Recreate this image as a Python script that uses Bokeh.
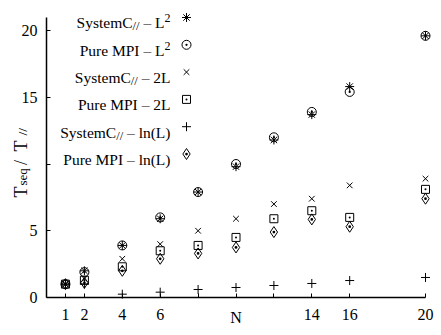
import numpy as np
from bokeh.plotting import figure
from bokeh.models import Range1d, FixedTicker, Label
from bokeh.embed import file_html
from bokeh.resources import INLINE

# ---------------- data ----------------
N = [1, 2, 4, 6, 8, 10, 12, 14, 16, 20]
sysc_l2 = [1.0, 2.0, 3.9, 5.9, 7.9, 9.8, 11.8, 13.7, 15.8, 19.6]
mpi_l2 = [1.0, 1.9, 3.9, 6.0, 7.9, 10.0, 12.0, 13.9, 15.4, 19.6]
sysc_2l = [1.0, 1.4, 2.9, 4.0, 5.0, 5.9, 7.0, 7.4, 8.4, 8.9]
mpi_2l = [1.0, 1.3, 2.3, 3.5, 3.9, 4.5, 5.9, 6.5, 6.0, 8.1]
sysc_ln = [1.0, 1.0, 0.25, 0.4, 0.6, 0.75, 0.9, 1.05, 1.27, 1.5]
mpi_ln = [1.0, 1.1, 2.0, 2.9, 3.3, 3.75, 4.9, 5.85, 5.3, 7.4]

x_ticks = [1, 2, 4, 6, 8, 10, 12, 14, 16, 20]
x_hidden_labels = [8, 10, 12]
y_ticks = [0, 5, 10, 15, 20]
y_hidden_labels = [10]

legend_labels = [
    [("SystemC", "main"), ("//", "sub"), (" \u2013 L", "main"), ("2", "sup")],
    [("Pure MPI \u2013 L", "main"), ("2", "sup")],
    [("SystemC", "main"), ("//", "sub"), (" \u2013 2L", "main")],
    [("Pure MPI \u2013 2L", "main")],
    [("SystemC", "main"), ("//", "sub"), (" \u2013 ln(L)", "main")],
    [("Pure MPI \u2013 ln(L)", "main")],
]
series = [sysc_l2, mpi_l2, sysc_2l, mpi_2l, sysc_ln, mpi_ln]
markers = ["asterisk", "circle_dot", "x", "square_dot", "cross", "diamond_dot"]
msizes = [9, 9, 8, 8, 9, 11]

# ---------------- layout ----------------
FONT = "Liberation Serif"
CW, CH = 440, 332          # canvas = frame
ORIG_X, ORIG_Y = 46, 297   # pixel position of data (0, 0)
PXX, PXY = 18.95, 13.35    # pixels per data unit
X0, X1 = -ORIG_X / PXX, (CW - ORIG_X) / PXX
Y0, Y1 = -(CH - ORIG_Y) / PXY, ORIG_Y / PXY


def dx(px):
    return X0 + px / PXX


def dy(py):
    return Y1 - py / PXY


p = figure(frame_width=CW, frame_height=CH, x_range=Range1d(X0, X1),
           y_range=Range1d(Y0, Y1), output_backend="svg", toolbar_location=None,
           min_border=0)
p.outline_line_color = None
p.grid.visible = False
p.background_fill_color = "white"
p.border_fill_color = "white"

for ax, ticks, hidden, bnd in ((p.xaxis[0], x_ticks, x_hidden_labels, (0, 20)),
                               (p.yaxis[0], y_ticks, y_hidden_labels, (0, 21))):
    ax.fixed_location = 0
    ax.ticker = FixedTicker(ticks=ticks)
    ax.major_label_overrides = {t: "" for t in hidden}
    ax.bounds = bnd
    ax.axis_line_color = "black"
    ax.axis_line_width = 1.5
    ax.major_tick_in = 4
    ax.major_tick_out = 0
    ax.major_tick_line_color = "black"
    ax.minor_tick_line_color = None
    ax.major_label_text_font = FONT
    ax.major_label_text_font_size = "16px"
    ax.major_label_text_color = "black"
p.xaxis.major_label_standoff = 11
p.yaxis.major_label_standoff = 9

# data markers
for ys, m, s in zip(series, markers, msizes):
    p.scatter(N, ys, marker=m, size=s, line_color="black", fill_color=None,
              line_width=1)

# ---------------- legend (gnuplot style: text right-aligned, symbol right) ----
W = {' ': 250, '(': 333, ')': 333, '/': 278, '2': 500, 'C': 667, 'I': 333,
     'L': 611, 'M': 889, 'P': 556, 'S': 556, 'e': 444, 'l': 278, 'm': 778,
     'n': 500, 'r': 333, 's': 389, 't': 278, 'u': 500, 'y': 500, '\u2013': 500,
     'q': 500, 'T': 611, 'N': 722}
STY = {"main": (15.5, 0.0), "sub": (12.5, 3.5), "sup": (12, -4.5)}


def tw(s, size):
    return sum(W.get(c, 500) for c in s) * size / 1000.0


TEXT_RIGHT = 170
SYM_X = 186
ROW0, ROWSTEP = 17.0, 27.3
for i, (pieces, m, s) in enumerate(zip(legend_labels, markers, msizes)):
    cy = ROW0 + i * ROWSTEP
    base = cy + 5.3
    total = sum(tw(t, STY[k][0]) for t, k in pieces)
    x = TEXT_RIGHT - total
    for t, k in pieces:
        size, off = STY[k]
        stripped = t.lstrip(" ")
        x += tw(t[:len(t) - len(stripped)], size)
        p.add_layout(Label(x=dx(x), y=dy(base + off), text=stripped,
                           text_font=FONT, text_font_size=f"{size}px",
                           text_color="black", text_align="left",
                           text_baseline="alphabetic"))
        x += tw(stripped, size)
    p.scatter([dx(SYM_X)], [dy(cy)], marker=m, size=s, line_color="black",
              fill_color=None, line_width=1)

# ---------------- axis titles ----------------
p.add_layout(Label(x=10, y=dy(317), text="N",
                   text_font=FONT, text_font_size="16px", text_color="black",
                   text_align="center", text_baseline="middle"))

ylab = [("T", 18, 197, 20.5, "left"), ("seq", 13, 185, 22, "left"),
        ("/", 18, 162, 20.5, "center"), ("T", 18, 151, 20.5, "left"),
        ("//", 13.5, 135, 21.5, "left")]
for t, size, ystart, xb, al in ylab:
    p.add_layout(Label(x=dx(xb), y=dy(ystart), text=t, angle=np.pi / 2,
                       text_font=FONT, text_font_size=f"{size}px",
                       text_color="black", text_align=al,
                       text_baseline="alphabetic"))

open("out.html", "w").write(file_html(p, INLINE))
